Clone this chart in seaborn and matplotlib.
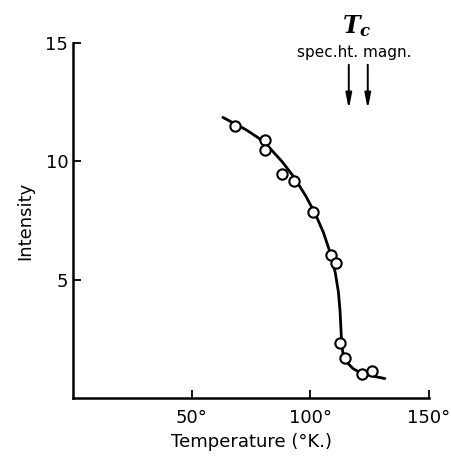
import matplotlib
matplotlib.use('Agg')
import matplotlib.pyplot as plt
import pandas as pd
import seaborn as sns

# Measured points (temperature in K, intensity)
temp_pts = [68.2, 80.8, 80.8, 88.0, 93.2, 101.0, 108.6, 111.0, 112.4, 114.4, 121.9, 126.0]
inten_pts = [11.5, 10.9, 10.5, 9.46, 9.17, 7.86, 6.04, 5.72, 2.35, 1.70, 1.04, 1.15]

# Smooth curve drawn through the data
temp_curve = [63.1, 68.0, 73.0, 78.0, 83.0, 88.0, 93.0, 98.0, 102.0, 105.5, 108.5,
              110.5, 111.8, 112.5, 112.9, 113.2, 113.8, 115.5, 118.0, 121.0, 125.0, 131.4]
inten_curve = [11.86, 11.6, 11.33, 11.0, 10.55, 10.0, 9.35, 8.55, 7.8, 7.0, 6.1,
               5.3, 4.5, 3.7, 2.9, 2.3, 1.85, 1.5, 1.25, 1.08, 0.96, 0.83]

# Transition temperatures marked by arrows
tc_labels = ['spec.ht.', 'magn.']
tc_values = [116.2, 124.2]

x_ticks = [50, 100, 150]
x_ticklabels = ['50°', '100°', '150°']
y_ticks = [5, 10, 15]

sns.set_style('white', {'xtick.direction': 'in', 'ytick.direction': 'in',
                        'xtick.bottom': True, 'ytick.left': True})
plt.rcParams['font.family'] = ['DejaVu Sans']
plt.rcParams['mathtext.fontset'] = 'custom'
plt.rcParams['mathtext.it'] = 'DejaVu Serif:italic:bold'
plt.rcParams['mathtext.rm'] = 'DejaVu Serif:bold'

df_pts = pd.DataFrame({'T': temp_pts, 'I': inten_pts})
df_curve = pd.DataFrame({'T': temp_curve, 'I': inten_curve})

fig = plt.figure(figsize=(4.52, 4.63), dpi=100)
ax = fig.add_axes([0.162, 0.140, 0.787, 0.767])

### curve then open circles on top
sns.lineplot(data=df_curve, x='T', y='I', ax=ax, color='black', linewidth=2.0,
             sort=False, estimator=None)
sns.scatterplot(data=df_pts, x='T', y='I', ax=ax, s=55, facecolor='white',
                edgecolor='black', linewidth=1.5, zorder=3)

ax.set_xlim(0, 150)
ax.set_ylim(0, 15)
ax.set_xticks(x_ticks)
ax.set_xticklabels(x_ticklabels)
ax.set_yticks(y_ticks)
ax.tick_params(direction='in', length=6, width=1.3, labelsize=13, colors='black',
               bottom=True, left=True)
ax.tick_params(axis='x', pad=8)

for side in ['top', 'right']:
    ax.spines[side].set_visible(False)
for side in ['left', 'bottom']:
    ax.spines[side].set_linewidth(1.8)
    ax.spines[side].set_color('black')

ax.set_xlabel('Temperature (°K.)', fontsize=13, labelpad=4, color='black')
ax.set_ylabel('Intensity', fontsize=13, labelpad=8, color='black')

### Tc arrows and labels above the plot
for t in tc_values:
    ax.annotate('', xy=(t, 12.1), xytext=(t, 14.2),
                arrowprops=dict(arrowstyle='-|>,head_length=0.9,head_width=0.18',
                                color='black', lw=1.4))
ax.text(118.6, 14.6, ' '.join(tc_labels), ha='center', va='center', fontsize=11,
        color='black', clip_on=False)
ax.text(119.5, 15.7, r'$T_c$', ha='center', va='center', fontsize=17,
        color='black', clip_on=False)

fig.savefig('out.png', dpi=100)
